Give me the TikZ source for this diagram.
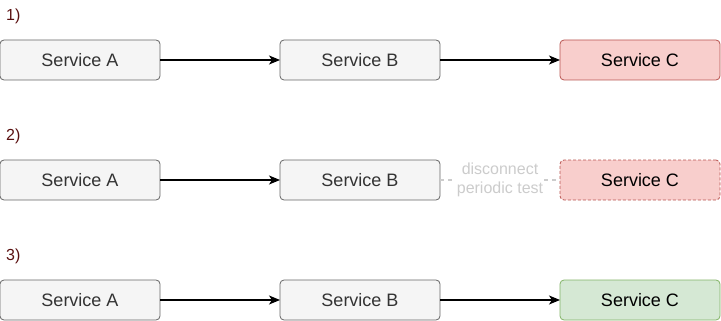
\documentclass[tikz,border=0pt]{standalone}
\usepackage{fontspec}
\setmainfont{Liberation Sans}
\usetikzlibrary{arrows.meta,positioning}
\definecolor{boxfill}{HTML}{F5F5F5}
\definecolor{boxline}{HTML}{666666}
\definecolor{boxtext}{HTML}{333333}
\definecolor{downfill}{HTML}{F8CECC}
\definecolor{downline}{HTML}{B85450}
\definecolor{upfill}{HTML}{D5E8D4}
\definecolor{upline}{HTML}{82B366}
\definecolor{steptext}{HTML}{5A1010}
\definecolor{offgray}{HTML}{CCCCCC}

\begin{document}
\begin{tikzpicture}[x=1pt, y=-1pt,
    node distance=80pt and 120pt,
    svc/.style={draw=boxline, fill=boxfill, text=boxtext, rounded corners=4pt,
                line width=0.8pt, minimum width=160pt, minimum height=40pt,
                outer sep=0pt, inner sep=0pt,
                font=\fontsize{18}{20}\selectfont},
    down/.style={svc, draw=downline, fill=downfill, text=black},
    up/.style={svc, draw=upline, fill=upfill, text=black},
    steplabel/.style={text=steptext, anchor=west, inner sep=0pt,
                      font=\fontsize{16}{18}\selectfont},
    arr/.style={-{Stealth[length=11pt,width=9pt,inset=3pt]}, line width=1.3pt},
    cut/.style={offgray, line width=1.3pt, dash pattern=on 4pt off 4pt},
    cutlabel/.style={fill=white, text=offgray, align=center, inner sep=1pt,
                     font=\fontsize{16}{18.5}\selectfont}
  ]
  \useasboundingbox (0,0) rectangle (721,321);

  % 1) all services up
  \node[svc] (a1) at (80,60) {Service A};
  \node[svc, right=of a1] (b1) {Service B};
  \node[down, right=of b1] (c1) {Service C};
  \node[steplabel] (s1) at (6,16) {1)};
  \draw[arr] (a1) -- (b1);
  \draw[arr] (b1) -- (c1);

  % 2) C taken out for the test
  \node[svc, below=of a1] (a2) {Service A};
  \node[svc, right=of a2] (b2) {Service B};
  \node[down, dashed, dash pattern=on 3pt off 2pt, right=of b2] (c2) {Service C};
  \node[steplabel] (s2) at (6,136) {2)};
  \draw[arr] (a2) -- (b2);
  \draw[cut] (b2) -- node[cutlabel] (cut) {disconnect\\periodic test} (c2);

  % 3) C back again
  \node[svc, below=of a2] (a3) {Service A};
  \node[svc, right=of a3] (b3) {Service B};
  \node[up, right=of b3] (c3) {Service C};
  \node[steplabel] (s3) at (6,256) {3)};
  \draw[arr] (a3) -- (b3);
  \draw[arr] (b3) -- (c3);
\end{tikzpicture}
\end{document}
